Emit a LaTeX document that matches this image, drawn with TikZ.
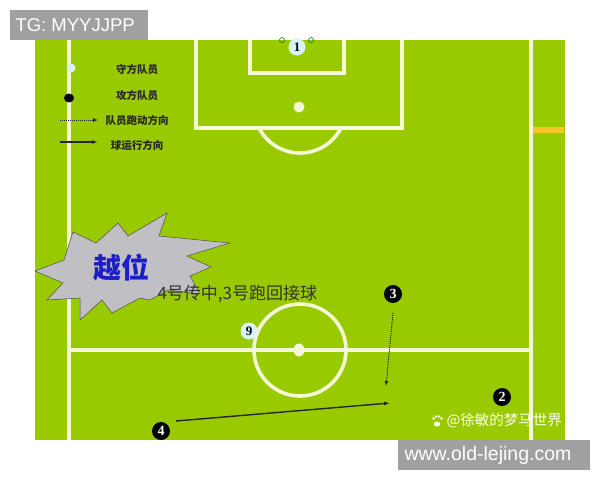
\documentclass[tikz,border=0pt]{standalone}
\usepackage{fontspec}
\setmainfont{Liberation Sans}
\newfontfamily\cjk{Noto Sans CJK SC}
\newfontfamily\numf{Liberation Serif}
\usetikzlibrary{arrows.meta}
\definecolor{pitch}{RGB}{153,202,0}
\definecolor{chalk}{RGB}{244,248,214}
\definecolor{markgray}{RGB}{160,160,160}
\definecolor{stargray}{RGB}{192,192,196}
\definecolor{blueword}{RGB}{30,30,200}
\definecolor{flag}{RGB}{240,200,40}
\begin{document}
\begin{tikzpicture}[x=1pt,y=-1pt,
  chalkline/.style={draw=chalk,line width=3.6pt},
  attacker/.style={circle,fill=black,text=white,inner sep=0pt,minimum size=18pt,font=\numf\bfseries\fontsize{14}{14}\selectfont},
  defender/.style={circle,fill=white!85!cyan,text=black,inner sep=0pt,minimum size=17pt,font=\numf\bfseries\fontsize{13}{13}\selectfont},
  legendtext/.style={font=\cjk\bfseries\fontsize{10.5}{10.5}\selectfont,text=black!85},
  runarrow/.style={draw=black!85,line width=1pt,dash pattern=on 1pt off 1pt,-{Latex[length=5pt,width=4pt]}},
  ballarrow/.style={draw=black!85,line width=1.4pt,-{Latex[length=6pt,width=4pt]}}]
\useasboundingbox (0,0) rectangle (600,480);
\fill[white] (0,0) rectangle (600,480);
% pitch
\fill[pitch] (35,40) rectangle (565,440);
\fill[flag] (531,127) rectangle (564,133);
% lines
\draw[chalkline] (69,40) -- (69,440);
\draw[chalkline] (531,40) -- (531,440);
\draw[chalkline] (69,350) -- (531,350);
\draw[chalkline] (196,40) -- (196,128) -- (402,128) -- (402,40);
\draw[chalkline] (250,40) -- (250,73) -- (344,73) -- (344,40);
\fill[chalk] (299,107) circle[radius=5.5];
\begin{scope}
  \clip (240,129.8) rectangle (360,170);
  \draw[chalkline] (300,107) circle[radius=46];
\end{scope}
\draw[chalkline] (300,350) circle[radius=46];
\fill[chalk] (299,350) ellipse[x radius=5.5,y radius=6.5];
% legend
\fill[white!85!cyan] (71,68) circle[radius=4.5];
\fill[black] (69,98) ellipse[x radius=5,y radius=4.5];
\coordinate (lr1) at (60,120);
\coordinate (lr2) at (98,120);
\coordinate (lb1) at (60,142);
\coordinate (lb2) at (98,142);
\draw[runarrow,line width=0.8pt] (lr1) -- (lr2);
\draw[ballarrow,line width=1.1pt] (lb1) -- (lb2);
\node[legendtext] (t1) at (137,69) {守方队员};
\node[legendtext] (t2) at (137,95) {攻方队员};
\node[legendtext] (t3) at (137,120) {队员跑动方向};
\node[legendtext] (t4) at (137,145) {球运行方向};
% starburst
\filldraw[fill=stargray,draw=black!70,line width=0.5pt]
  (35,271) -- (64,260) -- (73,232) -- (96,243) -- (118,223) -- (128,236)
  -- (167,213) -- (159,236) -- (230,243) -- (187,256) -- (211,267)
  -- (190,276) -- (200,294) -- (168,290) -- (150,300) -- (140,298)
  -- (112,313) -- (102,300) -- (80,320) -- (80,298) -- (47,300)
  -- (63,283) -- cycle;
\node[font=\cjk\bfseries\fontsize{28}{28}\selectfont,text=blueword] (off) at (121,268) {越位};
\node[font=\cjk\fontsize{17}{17}\selectfont,text=black!80,anchor=west] (desc) at (154,294) {4号传中,3号跑回接球};
% players
\node[defender] (p1) at (297,47) {1};
\draw[black!60!green,line width=0.5pt] (282,40) circle[radius=2.5];
\draw[black!60!green,line width=0.5pt] (311,40) circle[radius=2.5];
\node[defender] (p9) at (249,331) {9};
\node[attacker] (p3) at (393,294) {3};
\node[attacker] (p2) at (502,397) {2};
\node[attacker] (p4) at (161,431) {4};
% moves
\coordinate (r3s) at (393,313);
\coordinate (r3e) at (386,386);
\draw[runarrow] (r3s) -- (r3e);
\coordinate (b4s) at (176,421);
\coordinate (b4e) at (390,403);
\draw[ballarrow] (b4s) -- (b4e);
% watermark
\begin{scope}[fill=white!92!yellow]
  \fill (437,424) ellipse[x radius=3.2,y radius=2.5];
  \fill (433.5,418.5) circle[radius=1.3];
  \fill (436,416.5) circle[radius=1.3];
  \fill (439,416.5) circle[radius=1.3];
  \fill (441.5,418.5) circle[radius=1.3];
\end{scope}
\node[font=\cjk\fontsize{14.5}{14.5}\selectfont,text=white!92!yellow,anchor=west] (wm) at (443,421) {@徐敏的梦马世界};
% tags
\fill[markgray] (10,10) rectangle (148,40);
\node[font=\fontsize{18.5}{18.5}\selectfont,text=white,anchor=west] (tg) at (12,25.5) {TG: MYYJJPP};
\fill[markgray] (398,440) rectangle (590,470);
\node[font=\fontsize{19.5}{19.5}\selectfont,text=white,anchor=west] (url) at (401,455.5) {www.old-lejing.com};
\end{tikzpicture}
\end{document}
